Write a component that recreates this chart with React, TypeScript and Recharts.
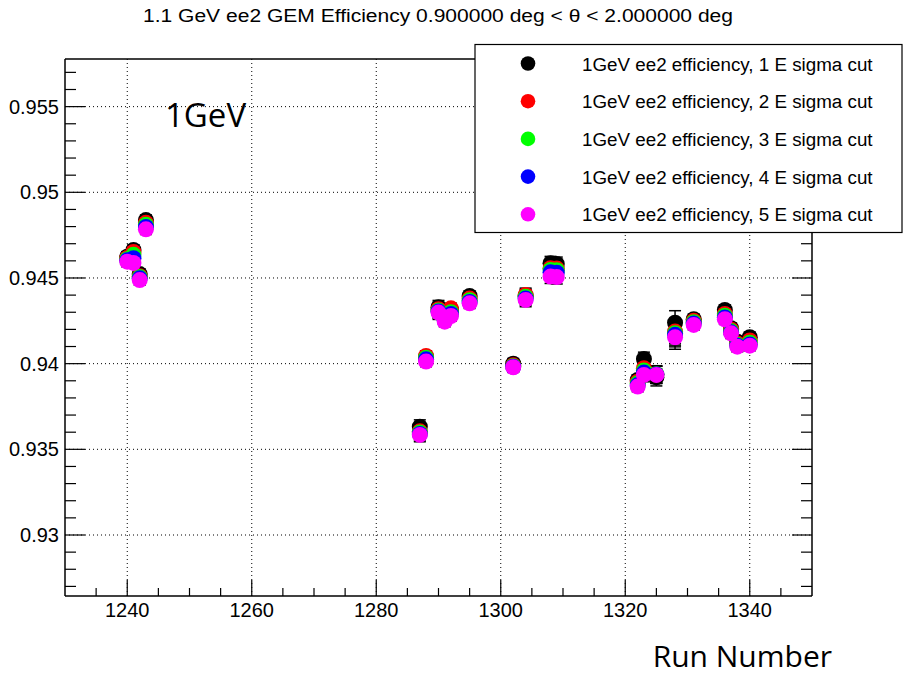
import { ScatterChart, Scatter, XAxis, YAxis, ErrorBar, ReferenceLine } from "recharts";

const runs = [1240, 1241, 1242, 1243, 1287, 1288, 1290, 1291, 1292, 1295, 1302, 1304, 1308, 1309, 1322, 1323, 1325, 1328, 1331, 1336, 1337, 1338, 1340];

// efficiency per run for each E sigma cut
const eff1 = [0.94624, 0.94664, 0.94523, 0.94838, 0.93632, 0.9404, 0.94329, 0.9427, 0.94315, 0.94395, 0.94, 0.94395, 0.94586, 0.94582, 0.93905, 0.94027, 0.9392, 0.94239, 0.94259, 0.94313, 0.94207, 0.94128, 0.94154];
const eff2 = [0.94617, 0.94652, 0.9451, 0.94822, 0.93605, 0.94045, 0.94318, 0.94265, 0.94323, 0.9438, 0.9399, 0.94401, 0.94557, 0.94555, 0.93895, 0.93973, 0.93935, 0.94187, 0.9425, 0.9429, 0.94198, 0.94118, 0.94135];
const eff3 = [0.9461, 0.94635, 0.94505, 0.9481, 0.93598, 0.94035, 0.9431, 0.94258, 0.943, 0.9437, 0.93985, 0.9439, 0.94547, 0.94545, 0.93885, 0.9396, 0.93938, 0.94178, 0.94242, 0.9428, 0.9419, 0.9411, 0.94122];
const eff4 = [0.94603, 0.94615, 0.94498, 0.94798, 0.9359, 0.94025, 0.94305, 0.94252, 0.9429, 0.9436, 0.93982, 0.9438, 0.94533, 0.9453, 0.93875, 0.93948, 0.93936, 0.94168, 0.94234, 0.9427, 0.94183, 0.94105, 0.94112];
const eff5 = [0.94595, 0.94588, 0.94488, 0.94784, 0.93584, 0.94012, 0.94298, 0.94245, 0.94278, 0.94352, 0.93979, 0.94372, 0.94508, 0.94505, 0.93866, 0.93934, 0.93934, 0.94154, 0.94226, 0.94259, 0.94177, 0.94099, 0.94105];
const effErr = [0.0003, 0.0003, 0.0003, 0.0003, 0.0004, 0.0003, 0.0004, 0.0003, 0.0003, 0.0003, 0.0003, 0.0004, 0.0004, 0.0004, 0.0003, 0.0004, 0.0005, 0.0007, 0.0003, 0.0003, 0.0003, 0.0003, 0.0003];

const seriesValues = [eff1, eff2, eff3, eff4, eff5];
const seriesNames = [
  "1GeV ee2 efficiency, 1 E sigma cut",
  "1GeV ee2 efficiency, 2 E sigma cut",
  "1GeV ee2 efficiency, 3 E sigma cut",
  "1GeV ee2 efficiency, 4 E sigma cut",
  "1GeV ee2 efficiency, 5 E sigma cut",
];
const seriesColors = ["#000000", "#ff0000", "#00ff00", "#0000ff", "#ff00ff"];

const xMajor = [1240, 1260, 1280, 1300, 1320, 1340];
const yMajor = [0.93, 0.935, 0.94, 0.945, 0.95, 0.955];
const xDomain = [1230, 1350];
const yDomain = [0.92644, 0.95778];

// minor ticks every 5 runs / every 0.001
const xTicks = Array.from({ length: 23 }, (_, i) => 1235 + i * 5);
const yTicks = Array.from({ length: 31 }, (_, i) => Math.round((0.927 + i * 0.001) * 1000) / 1000);

const FONT = "'Liberation Sans', Arial, sans-serif";

const isXMajor = (v: number) => v % 20 === 0;
const isYMajor = (v: number) => Math.round(v * 1000) % 5 === 0;
const fmtY = (v: number) => String(parseFloat(v.toFixed(3)));

const BottomTick = ({ x, y, payload }: any) => {
  const major = isXMajor(payload.value);
  return (
    <g>
      <line x1={x} y1={y} x2={x} y2={y - (major ? 16 : 8)} stroke="#000" strokeWidth={1.2} />
      {major && (
        <text x={x} y={y + 21} textAnchor="middle" fontSize={20} fontFamily={FONT} fill="#000">
          {payload.value}
        </text>
      )}
    </g>
  );
};

const TopTick = ({ x, y, payload }: any) => {
  const major = isXMajor(payload.value);
  return <line x1={x} y1={y} x2={x} y2={y + (major ? 16 : 8)} stroke="#000" strokeWidth={1.2} />;
};

const LeftTick = ({ x, y, payload }: any) => {
  const major = isYMajor(payload.value);
  return (
    <g>
      <line x1={x} y1={y} x2={x + (major ? 20 : 11)} y2={y} stroke="#000" strokeWidth={1.2} />
      {major && (
        <text x={x - 6} y={y + 7} textAnchor="end" fontSize={20} fontFamily={FONT} fill="#000">
          {fmtY(payload.value)}
        </text>
      )}
    </g>
  );
};

const RightTick = ({ x, y, payload }: any) => {
  const major = isYMajor(payload.value);
  return <line x1={x} y1={y} x2={x - (major ? 20 : 11)} y2={y} stroke="#000" strokeWidth={1.2} />;
};

const App = () => {
  const series = seriesValues.map((vals) =>
    runs.map((run, i) => ({ run, eff: vals[i], err: effErr[i] }))
  );

  return (
    <div style={{ position: "absolute", left: 0, top: 0, width: 903, height: 678, background: "#fff" }}>
      <ScatterChart width={903} height={678} margin={{ top: 0, right: 0, bottom: 0, left: 0 }}>
        <XAxis
          xAxisId="bottom"
          dataKey="run"
          type="number"
          orientation="bottom"
          domain={xDomain}
          allowDataOverflow
          ticks={xTicks}
          interval={0}
          height={82}
          tickSize={0}
          tickMargin={0}
          tickLine={false}
          tick={(p: any) => <BottomTick {...p} />}
          axisLine={{ stroke: "#000", strokeWidth: 1.5 }}
        />
        <XAxis
          xAxisId="top"
          type="number"
          orientation="top"
          domain={xDomain}
          allowDataOverflow
          ticks={xTicks}
          interval={0}
          height={59}
          tickSize={0}
          tickMargin={0}
          tickLine={false}
          tick={(p: any) => <TopTick {...p} />}
          axisLine={{ stroke: "#000", strokeWidth: 1.5 }}
        />
        <YAxis
          yAxisId="left"
          dataKey="eff"
          type="number"
          orientation="left"
          domain={yDomain}
          allowDataOverflow
          ticks={yTicks}
          interval={0}
          width={65}
          tickSize={0}
          tickMargin={0}
          tickLine={false}
          tick={(p: any) => <LeftTick {...p} />}
          axisLine={{ stroke: "#000", strokeWidth: 1.5 }}
        />
        <YAxis
          yAxisId="right"
          type="number"
          orientation="right"
          domain={yDomain}
          allowDataOverflow
          ticks={yTicks}
          interval={0}
          width={91}
          tickSize={0}
          tickMargin={0}
          tickLine={false}
          tick={(p: any) => <RightTick {...p} />}
          axisLine={{ stroke: "#000", strokeWidth: 1.5 }}
        />
        {xMajor.map((v) => (
          <ReferenceLine key={`gx-${v}`} x={v} xAxisId="bottom" yAxisId="left" stroke="#000" strokeWidth={1} strokeDasharray="1 3" />
        ))}
        {yMajor.map((v) => (
          <ReferenceLine key={`gy-${v}`} y={v} xAxisId="bottom" yAxisId="left" stroke="#000" strokeWidth={1} strokeDasharray="1 3" />
        ))}
        {series.map((data, s) => (
          <Scatter
            key={seriesNames[s]}
            name={seriesNames[s]}
            data={data}
            xAxisId="bottom"
            yAxisId="left"
            isAnimationActive={false}
            shape={(p: any) => <circle cx={p.cx} cy={p.cy} r={8} fill={seriesColors[s]} />}
          >
            <ErrorBar dataKey="err" direction="y" width={6} stroke="#000" strokeWidth={1.5} />
          </Scatter>
        ))}
      </ScatterChart>

      <svg width={903} height={678} style={{ position: "absolute", left: 0, top: 0, pointerEvents: "none" }}>
        <text x={143} y={22} fontSize={18} fontFamily={FONT} textLength={590} lengthAdjust="spacingAndGlyphs" fill="#000">
          1.1 GeV ee2 GEM Efficiency 0.900000 deg &lt; θ &lt; 2.000000 deg
        </text>
        <text x={165} y={127} fontSize={33} fontFamily="'Open Sans', sans-serif" fill="#000">
          1GeV
        </text>
        <text x={832} y={667} textAnchor="end" fontSize={30} fontFamily="'Open Sans', sans-serif" fill="#000">
          Run Number
        </text>
        <rect x={475} y={44.5} width={427} height={188} fill="#fff" stroke="#000" strokeWidth={1.2} />
        {seriesNames.map((name, i) => (
          <g key={name}>
            <circle cx={528} cy={63.5 + i * 37.7} r={7.3} fill={seriesColors[i]} />
            <text x={582} y={70.5 + i * 37.7} fontSize={18.8} fontFamily={FONT} fill="#000">
              {name}
            </text>
          </g>
        ))}
      </svg>
    </div>
  );
};

export default App;
